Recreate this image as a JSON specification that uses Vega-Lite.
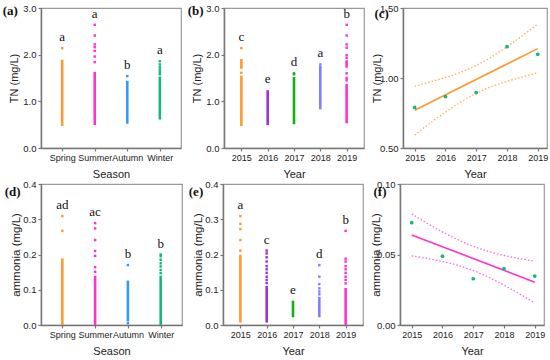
{
  "$schema": "https://vega.github.io/schema/vega-lite/v6.json",
  "padding": {"left": 2, "top": 2, "right": 0, "bottom": 0},
  "background": "white",
  "datasets": {
    "tnS_r": [
      {"cat": "Spring", "lo": 0.47, "hi": 1.89},
      {"cat": "Summer", "lo": 0.49, "hi": 1.63},
      {"cat": "Autumn", "lo": 0.52, "hi": 1.44},
      {"cat": "Winter", "lo": 0.61, "hi": 1.53}
    ],
    "tnS_p": [
      {"cat": "Spring", "v": 2.14},
      {"cat": "Summer", "v": 2.64}, {"cat": "Summer", "v": 2.41}, {"cat": "Summer", "v": 2.22},
      {"cat": "Summer", "v": 2.16}, {"cat": "Summer", "v": 2.08}, {"cat": "Summer", "v": 1.96},
      {"cat": "Summer", "v": 1.84},
      {"cat": "Autumn", "v": 1.54},
      {"cat": "Winter", "v": 1.86}, {"cat": "Winter", "v": 1.79}, {"cat": "Winter", "v": 1.73},
      {"cat": "Winter", "v": 1.68}, {"cat": "Winter", "v": 1.63}, {"cat": "Winter", "v": 1.58}
    ],
    "tnS_l": [
      {"cat": "Spring", "letter": "a", "top": 2.14},
      {"cat": "Summer", "letter": "a", "top": 2.64},
      {"cat": "Autumn", "letter": "b", "top": 1.54},
      {"cat": "Winter", "letter": "a", "top": 1.86}
    ],
    "tnY_r": [
      {"cat": "2015", "lo": 0.47, "hi": 1.55},
      {"cat": "2016", "lo": 0.49, "hi": 1.24},
      {"cat": "2017", "lo": 0.51, "hi": 1.52},
      {"cat": "2018", "lo": 0.83, "hi": 1.76},
      {"cat": "2019", "lo": 0.53, "hi": 1.37},
      {"cat": "2019", "lo": 1.72, "hi": 1.88}
    ],
    "tnY_p": [
      {"cat": "2015", "v": 2.14}, {"cat": "2015", "v": 1.88}, {"cat": "2015", "v": 1.85},
      {"cat": "2015", "v": 1.82}, {"cat": "2015", "v": 1.78}, {"cat": "2015", "v": 1.75},
      {"cat": "2015", "v": 1.72}, {"cat": "2015", "v": 1.61},
      {"cat": "2017", "v": 1.60}, {"cat": "2017", "v": 1.58},
      {"cat": "2018", "v": 1.79},
      {"cat": "2019", "v": 2.64}, {"cat": "2019", "v": 2.41}, {"cat": "2019", "v": 2.22},
      {"cat": "2019", "v": 2.15}, {"cat": "2019", "v": 1.99}, {"cat": "2019", "v": 1.93},
      {"cat": "2019", "v": 1.60}, {"cat": "2019", "v": 1.50}, {"cat": "2019", "v": 1.45}
    ],
    "tnY_l": [
      {"cat": "2015", "letter": "c", "top": 2.14},
      {"cat": "2016", "letter": "e", "top": 1.24},
      {"cat": "2017", "letter": "d", "top": 1.60},
      {"cat": "2018", "letter": "a", "top": 1.79},
      {"cat": "2019", "letter": "b", "top": 2.64}
    ],
    "amS_r": [
      {"cat": "Spring", "lo": 0.0, "hi": 0.189},
      {"cat": "Summer", "lo": 0.0, "hi": 0.14},
      {"cat": "Autumn", "lo": 0.01, "hi": 0.126},
      {"cat": "Winter", "lo": 0.0, "hi": 0.14}
    ],
    "amS_p": [
      {"cat": "Spring", "v": 0.309}, {"cat": "Spring", "v": 0.267},
      {"cat": "Summer", "v": 0.289}, {"cat": "Summer", "v": 0.274}, {"cat": "Summer", "v": 0.241},
      {"cat": "Summer", "v": 0.210}, {"cat": "Summer", "v": 0.196}, {"cat": "Summer", "v": 0.164},
      {"cat": "Summer", "v": 0.151},
      {"cat": "Autumn", "v": 0.170}, {"cat": "Autumn", "v": 0.005},
      {"cat": "Winter", "v": 0.200}, {"cat": "Winter", "v": 0.195}, {"cat": "Winter", "v": 0.185},
      {"cat": "Winter", "v": 0.175}, {"cat": "Winter", "v": 0.166}, {"cat": "Winter", "v": 0.156},
      {"cat": "Winter", "v": 0.147}
    ],
    "amS_l": [
      {"cat": "Spring", "letter": "ad", "top": 0.309},
      {"cat": "Summer", "letter": "ac", "top": 0.289},
      {"cat": "Autumn", "letter": "b", "top": 0.170},
      {"cat": "Winter", "letter": "b", "top": 0.200}
    ],
    "amY_r": [
      {"cat": "2015", "lo": 0.007, "hi": 0.199},
      {"cat": "2016", "lo": 0.007, "hi": 0.111},
      {"cat": "2017", "lo": 0.022, "hi": 0.069},
      {"cat": "2018", "lo": 0.022, "hi": 0.080},
      {"cat": "2019", "lo": 0.0, "hi": 0.105}
    ],
    "amY_p": [
      {"cat": "2015", "v": 0.309}, {"cat": "2015", "v": 0.287}, {"cat": "2015", "v": 0.272},
      {"cat": "2015", "v": 0.241}, {"cat": "2015", "v": 0.211},
      {"cat": "2016", "v": 0.211}, {"cat": "2016", "v": 0.203}, {"cat": "2016", "v": 0.192},
      {"cat": "2016", "v": 0.180}, {"cat": "2016", "v": 0.167}, {"cat": "2016", "v": 0.158},
      {"cat": "2016", "v": 0.148}, {"cat": "2016", "v": 0.137}, {"cat": "2016", "v": 0.128},
      {"cat": "2016", "v": 0.119},
      {"cat": "2018", "v": 0.170}, {"cat": "2018", "v": 0.137}, {"cat": "2018", "v": 0.116},
      {"cat": "2018", "v": 0.104}, {"cat": "2018", "v": 0.095}, {"cat": "2018", "v": 0.087},
      {"cat": "2019", "v": 0.267}, {"cat": "2019", "v": 0.188}, {"cat": "2019", "v": 0.180},
      {"cat": "2019", "v": 0.167}, {"cat": "2019", "v": 0.158}, {"cat": "2019", "v": 0.148},
      {"cat": "2019", "v": 0.137}, {"cat": "2019", "v": 0.128}, {"cat": "2019", "v": 0.118}
    ],
    "amY_l": [
      {"cat": "2015", "letter": "a", "top": 0.309},
      {"cat": "2016", "letter": "c", "top": 0.211},
      {"cat": "2017", "letter": "e", "top": 0.069},
      {"cat": "2018", "letter": "d", "top": 0.170},
      {"cat": "2019", "letter": "b", "top": 0.267}
    ],
    "tnT_pts": [
      {"year": 2015, "v": 0.790}, {"year": 2016, "v": 0.867}, {"year": 2017, "v": 0.896},
      {"year": 2018, "v": 1.224}, {"year": 2019, "v": 1.169}
    ],
    "tnT_fit": [{"year": 2015, "v": 0.770}, {"year": 2019, "v": 1.210}],
    "tnT_ci": [
      {"year": 2015, "up": 0.940, "lo": 0.592},
      {"year": 2015.5, "up": 0.972, "lo": 0.678},
      {"year": 2016, "up": 1.004, "lo": 0.756},
      {"year": 2016.5, "up": 1.041, "lo": 0.829},
      {"year": 2017, "up": 1.090, "lo": 0.890},
      {"year": 2017.5, "up": 1.151, "lo": 0.939},
      {"year": 2018, "up": 1.224, "lo": 0.976},
      {"year": 2018.5, "up": 1.302, "lo": 1.008},
      {"year": 2019, "up": 1.385, "lo": 1.038}
    ],
    "amT_pts": [
      {"year": 2015, "v": 0.0726}, {"year": 2016, "v": 0.0488}, {"year": 2017, "v": 0.0328},
      {"year": 2018, "v": 0.0399}, {"year": 2019, "v": 0.0347}
    ],
    "amT_fit": [{"year": 2015, "v": 0.0639}, {"year": 2019, "v": 0.0304}],
    "amT_ci": [
      {"year": 2015, "up": 0.0788, "lo": 0.0490},
      {"year": 2015.5, "up": 0.0722, "lo": 0.0472},
      {"year": 2016, "up": 0.0660, "lo": 0.0450},
      {"year": 2016.5, "up": 0.0605, "lo": 0.0423},
      {"year": 2017, "up": 0.0558, "lo": 0.0386},
      {"year": 2017.5, "up": 0.0521, "lo": 0.0339},
      {"year": 2018, "up": 0.0493, "lo": 0.0283},
      {"year": 2018.5, "up": 0.0471, "lo": 0.0221},
      {"year": 2019, "up": 0.0453, "lo": 0.0155}
    ]
  },
  "resolve": {"scale": {"color": "independent"}},
  "vconcat": [
    {
      "resolve": {"scale": {"color": "independent"}},
      "hconcat": [
        {
          "width": 140, "height": 140,
          "title": {"text": "(a)", "dx": -6, "dy": 19},
          "layer": [
            {"data": {"name": "tnS_r"}, "mark": {"type": "rule", "strokeWidth": 2.6},
             "encoding": {
               "x": {"field": "cat", "type": "ordinal", "scale": {"type": "point", "padding": 0.65, "domain": ["Spring", "Summer", "Autumn", "Winter"]}, "title": "Season"},
               "y": {"field": "lo", "type": "quantitative", "scale": {"domain": [0, 3], "nice": false}, "axis": {"values": [0, 1, 2, 3], "tickCount": 10, "format": ".1f"}, "title": "TN (mg/L)"},
               "y2": {"field": "hi"},
               "color": {"field": "cat", "type": "nominal", "scale": {"domain": ["Spring", "Summer", "Autumn", "Winter"], "range": ["#FF9933", "#FF33CC", "#3399FF", "#14B878"]}, "legend": null}
             }},
            {"data": {"name": "tnS_p"}, "mark": {"type": "point", "shape": "square", "filled": true, "size": 6, "opacity": 1},
             "encoding": {
               "x": {"field": "cat", "type": "ordinal"},
               "y": {"field": "v", "type": "quantitative"},
               "color": {"field": "cat", "type": "nominal", "legend": null}
             }},
            {"data": {"name": "tnS_l"}, "mark": {"type": "text", "font": "Liberation Serif", "fontSize": 13, "dy": -11, "color": "#111"},
             "encoding": {
               "x": {"field": "cat", "type": "ordinal"},
               "y": {"field": "top", "type": "quantitative"},
               "text": {"field": "letter"}
             }}
          ]
        },
        {
          "width": 140, "height": 140,
          "title": {"text": "(b)", "dx": -4, "dy": 19},
          "layer": [
            {"data": {"name": "tnY_r"}, "mark": {"type": "rule", "strokeWidth": 2.6},
             "encoding": {
               "x": {"field": "cat", "type": "ordinal", "scale": {"type": "point", "padding": 0.66, "domain": ["2015", "2016", "2017", "2018", "2019"]}, "title": "Year"},
               "y": {"field": "lo", "type": "quantitative", "scale": {"domain": [0, 3], "nice": false}, "axis": {"values": [0, 1, 2, 3], "tickCount": 10, "format": ".1f"}, "title": "TN (mg/L)"},
               "y2": {"field": "hi"},
               "color": {"field": "cat", "type": "nominal", "scale": {"domain": ["2015", "2016", "2017", "2018", "2019"], "range": ["#FF9933", "#9933DD", "#11B311", "#8080FF", "#FF33CC"]}, "legend": null}
             }},
            {"data": {"name": "tnY_p"}, "mark": {"type": "point", "shape": "square", "filled": true, "size": 6, "opacity": 1},
             "encoding": {
               "x": {"field": "cat", "type": "ordinal"},
               "y": {"field": "v", "type": "quantitative"},
               "color": {"field": "cat", "type": "nominal", "legend": null}
             }},
            {"data": {"name": "tnY_l"}, "mark": {"type": "text", "font": "Liberation Serif", "fontSize": 13, "dy": -11, "color": "#111"},
             "encoding": {
               "x": {"field": "cat", "type": "ordinal"},
               "y": {"field": "top", "type": "quantitative"},
               "text": {"field": "letter"}
             }}
          ]
        },
        {
          "width": 144, "height": 140,
          "title": {"text": "(c)", "dx": 3, "dy": 22},
          "layer": [
            {"data": {"name": "tnT_ci"}, "mark": {"type": "line", "color": "#FFB04D", "strokeWidth": 1.3, "strokeDash": [1.5, 2], "interpolate": "monotone"},
             "encoding": {
               "x": {"field": "year", "type": "quantitative", "scale": {"domain": [2014.62, 2019.3], "nice": false, "zero": false}, "axis": {"values": [2015, 2016, 2017, 2018, 2019], "tickCount": 10, "format": "d"}, "title": "Year"},
               "y": {"field": "up", "type": "quantitative", "scale": {"domain": [0.5, 1.5], "nice": false, "zero": false}, "axis": {"values": [0.5, 1, 1.5], "tickCount": 10, "format": ".2f", "titlePadding": -3}, "title": "TN (mg/L)"}
             }},
            {"data": {"name": "tnT_ci"}, "mark": {"type": "line", "color": "#FFB04D", "strokeWidth": 1.3, "strokeDash": [1.5, 2], "interpolate": "monotone"},
             "encoding": {
               "x": {"field": "year", "type": "quantitative"},
               "y": {"field": "lo", "type": "quantitative"}
             }},
            {"data": {"name": "tnT_fit"}, "mark": {"type": "line", "color": "#FF9933", "strokeWidth": 1.6},
             "encoding": {
               "x": {"field": "year", "type": "quantitative"},
               "y": {"field": "v", "type": "quantitative"}
             }},
            {"data": {"name": "tnT_pts"}, "mark": {"type": "circle", "color": "#14B878", "size": 14, "opacity": 1},
             "encoding": {
               "x": {"field": "year", "type": "quantitative"},
               "y": {"field": "v", "type": "quantitative"}
             }},
            {"mark": {"type": "text", "fontSize": 7.5, "color": "#111", "align": "center"},
             "encoding": {"x": {"datum": 2016.6}, "y": {"datum": 1.421}, "text": {"value": "Y=0.1099*X-220.7;"}}},
            {"mark": {"type": "text", "fontSize": 7.5, "color": "#111", "align": "left", "dx": -27.6},
             "encoding": {"x": {"datum": 2016.6}, "y": {"datum": 1.349}, "text": {"value": "R²=0.82, "}}},
            {"mark": {"type": "text", "fontSize": 7.5, "color": "#111", "align": "left", "dx": 3.6, "fontStyle": "italic"},
             "encoding": {"x": {"datum": 2016.6}, "y": {"datum": 1.349}, "text": {"value": "P"}}},
            {"mark": {"type": "text", "fontSize": 7.5, "color": "#111", "align": "left", "dx": 8.6},
             "encoding": {"x": {"datum": 2016.6}, "y": {"datum": 1.349}, "text": {"value": "<0.05"}}}
          ]
        }
      ]
    },
    {
      "resolve": {"scale": {"color": "independent"}},
      "hconcat": [
        {
          "width": 141, "height": 141,
          "title": {"text": "(d)", "dx": -6, "dy": 24},
          "layer": [
            {"data": {"name": "amS_r"}, "mark": {"type": "rule", "strokeWidth": 2.6},
             "encoding": {
               "x": {"field": "cat", "type": "ordinal", "scale": {"type": "point", "padding": 0.65, "domain": ["Spring", "Summer", "Autumn", "Winter"]}, "title": "Season"},
               "y": {"field": "lo", "type": "quantitative", "scale": {"domain": [0, 0.4], "nice": false}, "axis": {"values": [0, 0.1, 0.2, 0.3, 0.4], "tickCount": 10, "format": ".1f", "titleFontSize": 11.5, "titlePadding": 1}, "title": "ammonia (mg/L)"},
               "y2": {"field": "hi"},
               "color": {"field": "cat", "type": "nominal", "scale": {"domain": ["Spring", "Summer", "Autumn", "Winter"], "range": ["#FF9933", "#FF33CC", "#3399FF", "#14B878"]}, "legend": null}
             }},
            {"data": {"name": "amS_p"}, "mark": {"type": "point", "shape": "square", "filled": true, "size": 6, "opacity": 1},
             "encoding": {
               "x": {"field": "cat", "type": "ordinal"},
               "y": {"field": "v", "type": "quantitative"},
               "color": {"field": "cat", "type": "nominal", "legend": null}
             }},
            {"data": {"name": "amS_l"}, "mark": {"type": "text", "font": "Liberation Serif", "fontSize": 13, "dy": -11, "color": "#111"},
             "encoding": {
               "x": {"field": "cat", "type": "ordinal"},
               "y": {"field": "top", "type": "quantitative"},
               "text": {"field": "letter"}
             }}
          ]
        },
        {
          "width": 140, "height": 141,
          "title": {"text": "(e)", "dx": -4, "dy": 24},
          "layer": [
            {"data": {"name": "amY_r"}, "mark": {"type": "rule", "strokeWidth": 2.6},
             "encoding": {
               "x": {"field": "cat", "type": "ordinal", "scale": {"type": "point", "padding": 0.66, "domain": ["2015", "2016", "2017", "2018", "2019"]}, "title": "Year"},
               "y": {"field": "lo", "type": "quantitative", "scale": {"domain": [0, 0.4], "nice": false}, "axis": {"values": [0, 0.1, 0.2, 0.3, 0.4], "tickCount": 10, "format": ".1f", "titleFontSize": 11.5, "titlePadding": 1}, "title": "ammonia (mg/L)"},
               "y2": {"field": "hi"},
               "color": {"field": "cat", "type": "nominal", "scale": {"domain": ["2015", "2016", "2017", "2018", "2019"], "range": ["#FF9933", "#9933DD", "#11B311", "#8080FF", "#FF33CC"]}, "legend": null}
             }},
            {"data": {"name": "amY_p"}, "mark": {"type": "point", "shape": "square", "filled": true, "size": 6, "opacity": 1},
             "encoding": {
               "x": {"field": "cat", "type": "ordinal"},
               "y": {"field": "v", "type": "quantitative"},
               "color": {"field": "cat", "type": "nominal", "legend": null}
             }},
            {"data": {"name": "amY_l"}, "mark": {"type": "text", "font": "Liberation Serif", "fontSize": 13, "dy": -11, "color": "#111"},
             "encoding": {
               "x": {"field": "cat", "type": "ordinal"},
               "y": {"field": "top", "type": "quantitative"},
               "text": {"field": "letter"}
             }}
          ]
        },
        {
          "width": 144, "height": 141,
          "title": {"text": "(f)", "dx": 3, "dy": 24},
          "layer": [
            {"data": {"name": "amT_ci"}, "mark": {"type": "line", "color": "#FF66DD", "strokeWidth": 1.3, "strokeDash": [1.5, 2], "interpolate": "monotone"},
             "encoding": {
               "x": {"field": "year", "type": "quantitative", "scale": {"domain": [2014.62, 2019.3], "nice": false, "zero": false}, "axis": {"values": [2015, 2016, 2017, 2018, 2019], "tickCount": 10, "format": "d"}, "title": "Year"},
               "y": {"field": "up", "type": "quantitative", "scale": {"domain": [0, 0.1], "nice": false}, "axis": {"values": [0, 0.05, 0.1], "tickCount": 10, "format": ".2f", "titlePadding": -5, "titleFontSize": 11.5}, "title": "ammonia (mg/L)"}
             }},
            {"data": {"name": "amT_ci"}, "mark": {"type": "line", "color": "#FF66DD", "strokeWidth": 1.3, "strokeDash": [1.5, 2], "interpolate": "monotone"},
             "encoding": {
               "x": {"field": "year", "type": "quantitative"},
               "y": {"field": "lo", "type": "quantitative"}
             }},
            {"data": {"name": "amT_fit"}, "mark": {"type": "line", "color": "#FF33CC", "strokeWidth": 1.6},
             "encoding": {
               "x": {"field": "year", "type": "quantitative"},
               "y": {"field": "v", "type": "quantitative"}
             }},
            {"data": {"name": "amT_pts"}, "mark": {"type": "circle", "color": "#14B878", "size": 14, "opacity": 1},
             "encoding": {
               "x": {"field": "year", "type": "quantitative"},
               "y": {"field": "v", "type": "quantitative"}
             }},
            {"mark": {"type": "text", "fontSize": 7.5, "color": "#111", "align": "center"},
             "encoding": {"x": {"datum": 2016.6}, "y": {"datum": 0.0891}, "text": {"value": "Y=-0.009*x+17.07;"}}},
            {"mark": {"type": "text", "fontSize": 7.5, "color": "#111", "align": "left", "dx": -27.6},
             "encoding": {"x": {"datum": 2016.6}, "y": {"datum": 0.082}, "text": {"value": "R²=0.78, "}}},
            {"mark": {"type": "text", "fontSize": 7.5, "color": "#111", "align": "left", "dx": 3.6, "fontStyle": "italic"},
             "encoding": {"x": {"datum": 2016.6}, "y": {"datum": 0.082}, "text": {"value": "P"}}},
            {"mark": {"type": "text", "fontSize": 7.5, "color": "#111", "align": "left", "dx": 8.6},
             "encoding": {"x": {"datum": 2016.6}, "y": {"datum": 0.082}, "text": {"value": "<0.05"}}}
          ]
        }
      ]
    }
  ],
  "spacing": -2,
  "config": {
    "font": "Liberation Sans",
    "concat": {"spacing": 5},
    "view": {"stroke": "#9a9a9a", "strokeWidth": 1.2},
    "axis": {
      "domainColor": "#777777", "domainWidth": 1.5,
      "tickColor": "#777777", "tickWidth": 1.2, "tickSize": 3,
      "labelFont": "Liberation Sans", "labelFontSize": 9, "labelColor": "#222222",
      "titleFont": "Liberation Sans", "titleFontSize": 11, "titleFontWeight": "normal", "titleColor": "#222222",
      "grid": false, "labelPadding": 2, "labelOverlap": false
    },
    "axisX": {"labelAngle": 0, "titlePadding": 6},
    "axisY": {"titlePadding": 3, "labelFontSize": 9.5},
    "title": {"font": "Liberation Serif", "fontWeight": "bold", "fontSize": 13, "anchor": "start", "frame": "bounds", "color": "#111111", "offset": 0}
  }
}
